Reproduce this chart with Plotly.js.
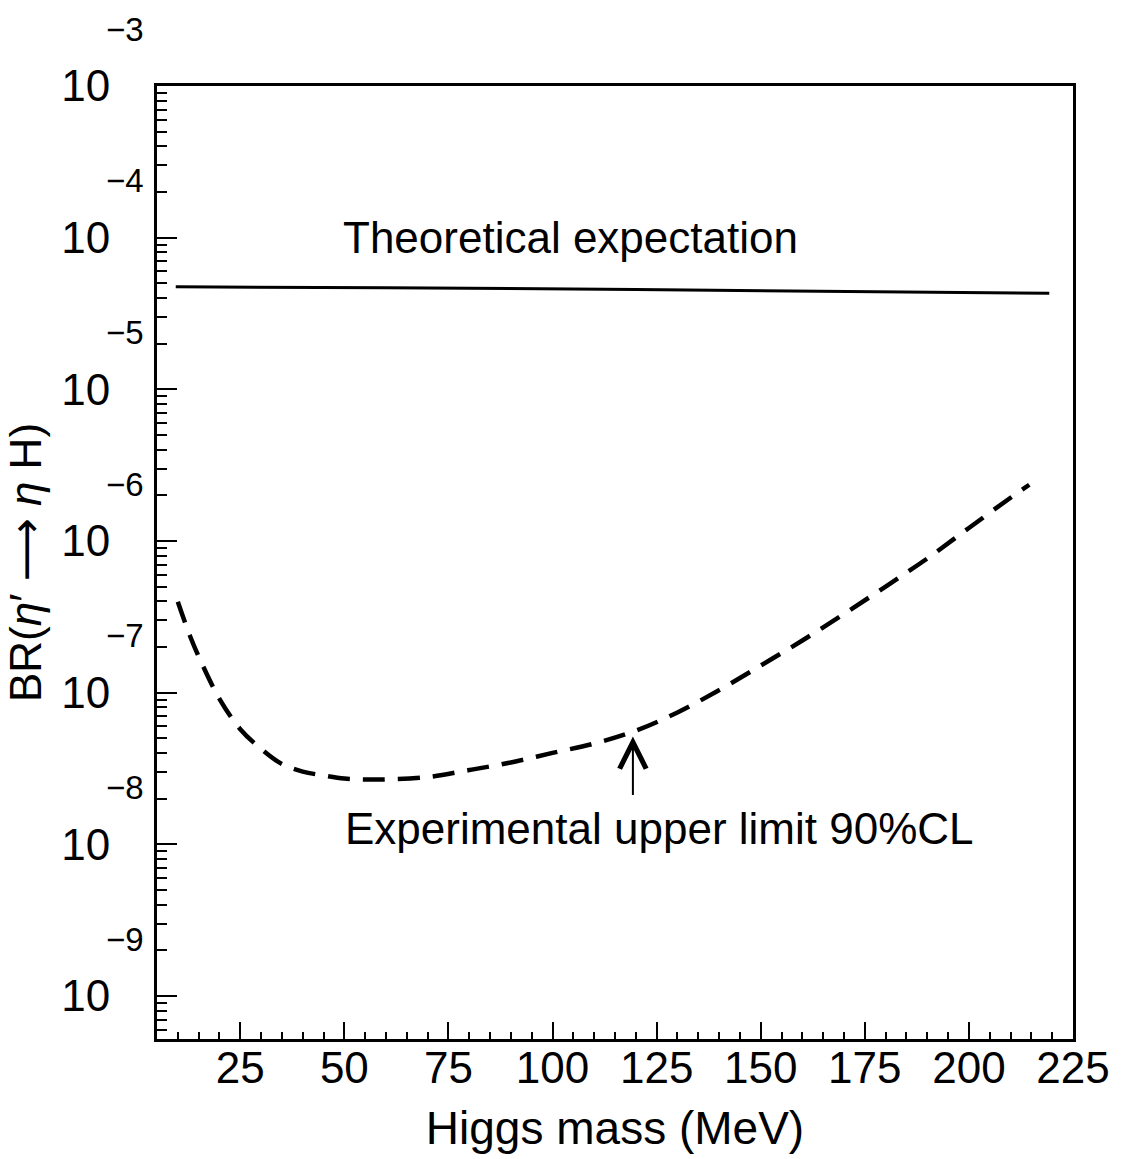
<!DOCTYPE html>
<html>
<head>
<meta charset="utf-8">
<script src="https://cdn.plot.ly/plotly-3.0.1.min.js"></script>
<style>html,body{margin:0;padding:0;background:#fff;}</style>
</head>
<body>
<div id="chart" style="width:1128px;height:1159px;"></div>
<script>
// Theoretical expectation (solid line)
const theoryMass = [9.5, 60, 120, 170, 219.3];
const theoryBR   = [4.74e-5, 4.68e-5, 4.55e-5, 4.42e-5, 4.30e-5];

// Experimental upper limit 90% CL (dashed curve)
const limitMass = [10, 13, 16, 20, 25, 30, 35, 40, 45, 50, 55, 60, 70, 80, 90, 100, 110, 120, 130, 140, 150, 160, 170, 180, 190, 200, 210, 214.5];
const limitBR   = [3.98e-7, 2.34e-7, 1.51e-7, 9.12e-8, 5.75e-8, 4.27e-8, 3.39e-8, 3.02e-8, 2.85e-8, 2.72e-8, 2.68e-8, 2.68e-8, 2.78e-8, 3.09e-8, 3.47e-8, 4.01e-8, 4.62e-8, 5.62e-8, 7.41e-8, 1.04e-7, 1.51e-7, 2.21e-7, 3.31e-7, 5.01e-7, 7.67e-7, 1.22e-6, 1.93e-6, 2.35e-6];

// Y axis decades and their labels
const yTickVals  = [1e-3, 1e-4, 1e-5, 1e-6, 1e-7, 1e-8, 1e-9];
const yTickBase  = ["10", "10", "10", "10", "10", "10", "10"];
const yTickExp   = ["\u22123", "\u22124", "\u22125", "\u22126", "\u22127", "\u22128", "\u22129"];

// Text labels
const theoryLabel = {text: "Theoretical expectation", mass: 104.3, br: 1.0e-4};
const limitLabel  = {text: "Experimental upper limit 90%CL", mass: 125.7, br: 1.27e-8};
const arrowPoint  = {mass: 119.3, br: 5.15e-8};

const FONT = "Liberation Sans, Arial, sans-serif";

const traces = [
  {x: theoryMass, y: theoryBR, type: "scatter", mode: "lines",
   line: {color: "black", width: 3}, hoverinfo: "skip", showlegend: false},
  {x: limitMass, y: limitBR, type: "scatter", mode: "lines",
   line: {color: "black", width: 4.5, dash: "22px,13px", shape: "spline"},
   hoverinfo: "skip", showlegend: false}
];

const annotations = [];
yTickVals.forEach((v, i) => {
  annotations.push({
    xref: "paper", yref: "y", x: 0, y: Math.log10(v),
    xanchor: "right", yanchor: "middle", xshift: -11, yshift: 57,
    text: yTickExp[i], showarrow: false,
    font: {family: FONT, size: 33, color: "black"}
  });
});
annotations.push({
  xref: "x", yref: "y", x: theoryLabel.mass, y: Math.log10(theoryLabel.br),
  text: theoryLabel.text, showarrow: false, xanchor: "center", yanchor: "middle",
  font: {family: FONT, size: 44, color: "black"}
});
annotations.push({
  xref: "x", yref: "y", x: limitLabel.mass, y: Math.log10(limitLabel.br),
  text: limitLabel.text, showarrow: false, xanchor: "center", yanchor: "middle",
  font: {family: FONT, size: 44, color: "black"}
});
annotations.push({
  xref: "x", yref: "y", x: arrowPoint.mass, y: Math.log10(arrowPoint.br),
  text: "", showarrow: true, axref: "pixel", ayref: "pixel", ax: 0, ay: 60,
  arrowhead: 5, arrowsize: 2.6, arrowwidth: 2, arrowcolor: "black"
});

const yTitle = "BR(<i>\u03b7</i>\u2032 <span style=\"font-family:'DejaVu Sans'\">\u27f6</span> <i>\u03b7</i> H)";

const layout = {
  width: 1128, height: 1159,
  margin: {l: 157, r: 55, t: 86, b: 120},
  paper_bgcolor: "white", plot_bgcolor: "white",
  font: {family: FONT, color: "black", size: 44},
  showlegend: false,
  xaxis: {
    range: [5, 225], tick0: 0, dtick: 25,
    ticks: "inside", ticklen: 17, tickwidth: 2, tickcolor: "black",
    minor: {dtick: 5, ticks: "inside", ticklen: 7, tickwidth: 2, tickcolor: "black", showgrid: false},
    ticklabelstandoff: -12,
    showline: true, linecolor: "black", linewidth: 3, mirror: true,
    showgrid: false, zeroline: false,
    tickfont: {family: FONT, size: 44, color: "black"},
    title: {text: "Higgs mass (MeV)", font: {family: FONT, size: 46, color: "black"}, standoff: 22}
  },
  yaxis: {
    type: "log", range: [-9.283, -3],
    tickmode: "array", tickvals: yTickVals, ticktext: yTickBase,
    ticks: "inside", ticklen: 20, tickwidth: 2, tickcolor: "black",
    minor: {dtick: "D1", ticks: "inside", ticklen: 10, tickwidth: 2, tickcolor: "black", showgrid: false},
    ticklabelstandoff: 35,
    showline: true, linecolor: "black", linewidth: 3, mirror: true,
    showgrid: false, zeroline: false,
    tickfont: {family: FONT, size: 44, color: "black"},
    title: {text: yTitle, font: {family: FONT, size: 44, color: "black"}, standoff: 10}
  },
  annotations: annotations
};

Plotly.newPlot("chart", traces, layout, {staticPlot: true, displayModeBar: false});
</script>
</body>
</html>
